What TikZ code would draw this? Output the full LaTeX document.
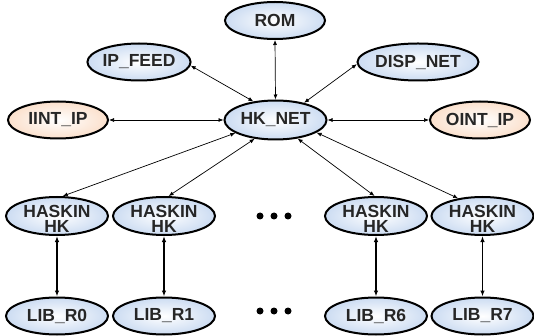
\documentclass[tikz,border=0pt]{standalone}
\usepackage{fontspec}
\setmainfont{Liberation Sans}
\usetikzlibrary{arrows.meta,shapes.geometric}
\definecolor{bluefill}{HTML}{CCDCF2}
\definecolor{orangefill}{HTML}{FBE0CC}
\begin{document}
\begin{tikzpicture}[x=1pt,y=-1pt,
  nd/.style={ellipse,draw=black,line width=2pt,minimum width=100pt,minimum height=37pt,inner sep=0pt,
    shading=radial,inner color=white,outer color=bluefill,text=black!85,
    font=\fontsize{17.5}{18}\selectfont\bfseries},
  ndo/.style={nd,outer color=orangefill},
  lnk/.style={line width=0.7pt,{Latex[length=5pt,width=4pt]}-{Latex[length=5pt,width=4pt]}},
  vlnk/.style={line width=1.3pt,{Latex[length=6pt,width=4.5pt]}-{Latex[length=6pt,width=4.5pt]}},
  dotc/.style={circle,fill=black,inner sep=0pt,minimum size=7pt}]
\useasboundingbox (0,0) rectangle (534,336);
\node[nd] (rom) at (275,20.5) {ROM};
\node[nd] (ipf) at (139,62) {IP\_FEED};
\node[nd] (disp) at (418,62) {DISP\_NET};
\node[ndo] (iint) at (58,120) {IINT\_IP};
\node[nd,minimum width=102pt,minimum height=39pt] (hk) at (275.5,120) {HK\_NET};
\node[ndo] (oint) at (480,120) {OINT\_IP};
\foreach \n/\x in {1/57,2/164,3/376,4/482.5}{
  \node[nd,minimum width=102pt,minimum height=38pt] (h\n) at (\x,216) {\raisebox{-17pt}[0pt][0pt]{\shortstack{HASKIN\\[0.5pt]HK}}};
}
\node[nd,minimum width=102pt] (l1) at (57,316) {LIB\_R0};
\node[nd,minimum width=102pt] (l2) at (164,316) {LIB\_R1};
\node[nd,minimum width=102pt] (l3) at (376,316) {LIB\_R6};
\node[nd,minimum width=102pt] (l4) at (482.5,316) {LIB\_R7};
\foreach \x [count=\i] in {260,274,288}{
  \node[dotc] (ua\i) at (\x,216) {};
  \node[dotc] (lb\i) at (\x,311) {};
}
\draw[lnk] (ipf.-4) -- (hk.140);
\draw[lnk] (rom.south) -- (hk.north);
\draw[lnk] (disp.182) -- (hk.31);
\draw[lnk] (iint.east) -- (hk.west);
\draw[lnk] (hk.east) -- (oint.west);
\draw[lnk] (hk.198) -- (h1.74);
\draw[lnk] (hk.222) -- (h2.77);
\draw[lnk] (hk.-40) -- (h3.94);
\draw[lnk] (hk.-17) -- (h4.144);
\foreach \n in {1,2,3,4}{
  \draw[vlnk] (h\n.south) -- (l\n.north);
}
\end{tikzpicture}
\end{document}
